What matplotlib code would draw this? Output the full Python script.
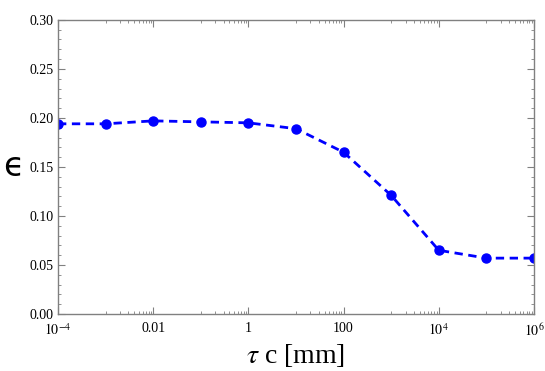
import numpy as np
import matplotlib
matplotlib.use("Agg")
import matplotlib.pyplot as plt
from matplotlib.ticker import FixedLocator, FixedFormatter, MultipleLocator

plt.rcParams['font.family'] = ['Liberation Serif', 'DejaVu Serif']
plt.rcParams['mathtext.fontset'] = 'stix'

# data
tau_c = [1e-4, 1e-3, 1e-2, 1e-1, 1, 10, 100, 1e3, 1e4, 1e5, 1e6]
eps = [0.194, 0.194, 0.197, 0.196, 0.195, 0.189, 0.165, 0.121, 0.065, 0.057, 0.057]
xticks = [1e-4, 1e-2, 1, 1e2, 1e4, 1e6]
xticklabels = [r'$10^{-4}$', '0.01', '1', '100', r'$10^{4}$', r'$10^{6}$']

fig = plt.figure(figsize=(5.45, 3.71), dpi=100)
ax = fig.add_axes([0.1064, 0.1536, 0.8734, 0.7928])

ax.plot(tau_c, eps, color='#0000ff', ls='--', lw=2, dashes=(3, 2),
        marker='o', ms=6.5)

ax.set_xscale('log')
ax.set_xlim(1e-4, 1e6)
ax.set_ylim(0, 0.30)

ax.xaxis.set_major_locator(FixedLocator(xticks))
ax.xaxis.set_major_formatter(FixedFormatter(xticklabels))
minor = []
for d in range(-3, 6, 2):
    minor += [m * 10.0**d for m in range(1, 10)]
ax.xaxis.set_minor_locator(FixedLocator(minor))
ax.xaxis.set_minor_formatter(FixedFormatter([''] * len(minor)))

ax.yaxis.set_major_locator(MultipleLocator(0.05))
ax.yaxis.set_minor_locator(MultipleLocator(0.01))
ax.yaxis.set_major_formatter(matplotlib.ticker.FormatStrFormatter('%.2f'))

gray = '#808080'
for s in ax.spines.values():
    s.set_color(gray)
    s.set_linewidth(1.0)
ax.tick_params(which='both', direction='in', top=True, right=True,
               color=gray, labelsize=10, labelcolor='black')
ax.tick_params(axis='x', pad=6)
ax.tick_params(axis='y', pad=3)
ax.tick_params(which='major', length=5)
ax.tick_params(which='minor', length=2.5)

ax.set_xlabel(r'$\tau$ c [mm]', fontsize=20, labelpad=2)
ax.set_ylabel('\u03f5', fontsize=24, rotation=0, labelpad=12, va='center',
              family=['DejaVu Sans'])

fig.savefig('out.png', dpi=100)
